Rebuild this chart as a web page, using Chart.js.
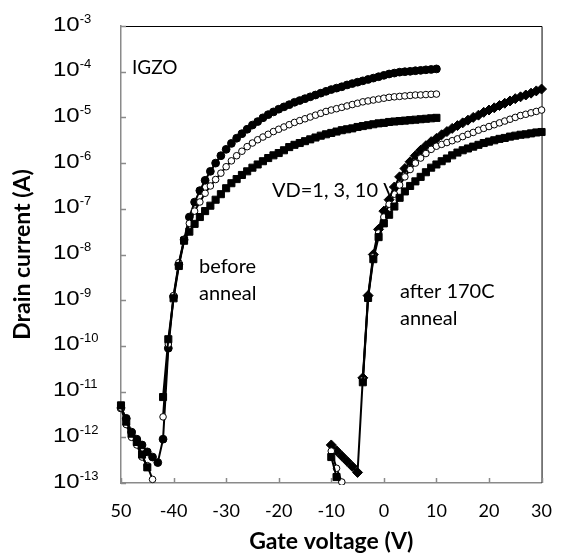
<!DOCTYPE html>
<html>
<head>
<meta charset="utf-8">
<script src="https://cdn.jsdelivr.net/npm/chart.js@4.4.1/dist/chart.umd.min.js"></script>
<style>
  body { margin: 0; background: #fff; }
  canvas { display: block; }
</style>
</head>
<body>
<canvas id="idChart" width="569" height="558"></canvas>
<script>
// gate voltage steps (V)
var gateBefore = [-50, -49, -48, -47, -46, -45, -44, -43, -42, -41, -40, -39, -38, -37, -36, -35, -34, -33, -32, -31,
  -30, -29, -28, -27, -26, -25, -24, -23, -22, -21, -20, -19, -18, -17, -16, -15, -14, -13, -12, -11,
  -10, -9, -8, -7, -6, -5, -4, -3, -2, -1, 0, 1, 2, 3, 4, 5, 6, 7, 8, 9, 10];
var gateAfter = [-10, -9, -8, -7, -6, -5, -4, -3, -2, -1, 0, 1, 2, 3, 4, 5, 6, 7, 8, 9,
  10, 11, 12, 13, 14, 15, 16, 17, 18, 19, 20, 21, 22, 23, 24, 25, 26, 27, 28, 29, 30];

// drain current (A), before anneal
var beforeVd10 = [4.4e-12, 2.6e-12, 1.3e-12, 9.1e-13, 6.8e-13, 4.8e-13, 3.7e-13, 2.8e-13, 9.1e-13, 8.9e-11,
  1.2e-9, 6.0e-9, 2.1e-8, 6.6e-8, 1.4e-7, 2.5e-7, 4.2e-7, 6.6e-7, 1.0e-6, 1.45e-6,
  2.0e-6, 2.7e-6, 3.5e-6, 4.4e-6, 5.5e-6, 6.8e-6, 8.1e-6, 9.8e-6, 1.15e-5, 1.32e-5,
  1.51e-5, 1.7e-5, 1.9e-5, 2.14e-5, 2.34e-5, 2.57e-5, 2.82e-5, 3.09e-5, 3.39e-5, 3.72e-5,
  4.07e-5, 4.37e-5, 4.68e-5, 5.13e-5, 5.5e-5, 5.89e-5, 6.31e-5, 6.76e-5, 7.24e-5, 7.76e-5,
  8.32e-5, 8.91e-5, 9.33e-5, 9.77e-5, 1.0e-4, 1.02e-4, 1.05e-4, 1.07e-4, 1.1e-4, 1.12e-4, 1.15e-4];
var beforeVd3 = [4.4e-12, 1.9e-12, 1.0e-12, 6.8e-13, 3.7e-13, 2.4e-13, 1.2e-13, null, 2.8e-12, 1.1e-10,
  1.26e-9, 6.6e-9, 2.1e-8, 4.8e-8, 8.9e-8, 1.41e-7, 2.19e-7, 3.16e-7, 4.37e-7, 6.03e-7,
  8.32e-7, 1.12e-6, 1.45e-6, 1.82e-6, 2.29e-6, 2.75e-6, 3.24e-6, 3.72e-6, 4.27e-6, 4.9e-6,
  5.5e-6, 6.17e-6, 6.92e-6, 7.76e-6, 8.51e-6, 9.33e-6, 1.02e-5, 1.12e-5, 1.23e-5, 1.35e-5,
  1.45e-5, 1.55e-5, 1.66e-5, 1.78e-5, 1.91e-5, 2.04e-5, 2.19e-5, 2.29e-5, 2.4e-5, 2.51e-5,
  2.63e-5, 2.75e-5, 2.82e-5, 2.88e-5, 2.95e-5, 3.02e-5, 3.09e-5, 3.1e-5, 3.16e-5, 3.2e-5, 3.24e-5];
var beforeVd1 = [5.0e-12, 2.2e-12, 1.2e-12, 7.9e-13, 4.2e-13, 2.2e-13, null, null, 7.6e-12, 1.4e-10,
  1.1e-9, 5.6e-9, 2.0e-8, 3.16e-8, 4.68e-8, 6.61e-8, 8.91e-8, 1.17e-7, 1.58e-7, 2.09e-7,
  2.82e-7, 3.63e-7, 4.47e-7, 5.5e-7, 6.61e-7, 7.94e-7, 9.33e-7, 1.1e-6, 1.29e-6, 1.48e-6,
  1.66e-6, 1.91e-6, 2.24e-6, 2.51e-6, 2.75e-6, 3.02e-6, 3.31e-6, 3.63e-6, 3.98e-6, 4.27e-6,
  4.57e-6, 4.9e-6, 5.25e-6, 5.5e-6, 5.75e-6, 6.17e-6, 6.46e-6, 6.76e-6, 7.08e-6, 7.41e-6,
  7.59e-6, 7.94e-6, 8.13e-6, 8.32e-6, 8.51e-6, 8.71e-6, 8.91e-6, 9.12e-6, 9.33e-6, 9.55e-6, 9.77e-6];

// drain current (A), after 170C anneal
var afterVd10 = [6.8e-13, 5.1e-13, 3.9e-13, 3.0e-13, 2.3e-13, 1.7e-13, 2.0e-11, 1.26e-9, 1.0e-8, 3.55e-8,
  8.9e-8, 1.58e-7, 3.0e-7, 5.0e-7, 7.6e-7, 1.07e-6, 1.45e-6, 1.91e-6, 2.4e-6, 2.95e-6,
  3.47e-6, 4.17e-6, 4.9e-6, 5.75e-6, 6.61e-6, 7.59e-6, 8.71e-6, 1.0e-5, 1.12e-5, 1.29e-5,
  1.45e-5, 1.62e-5, 1.82e-5, 2.04e-5, 2.29e-5, 2.57e-5, 2.82e-5, 3.09e-5, 3.39e-5, 3.8e-5, 4.17e-5];
var afterVd3 = [5.0e-13, 2.1e-13, 1.05e-13, null, null, null, 1.8e-11, 1.17e-9, 8.9e-9, 2.95e-8,
  6.6e-8, 1.26e-7, 2.09e-7, 3.31e-7, 5.0e-7, 7.24e-7, 1.0e-6, 1.29e-6, 1.62e-6, 2.0e-6,
  2.34e-6, 2.57e-6, 2.82e-6, 3.09e-6, 3.39e-6, 3.8e-6, 4.27e-6, 4.68e-6, 5.25e-6, 5.75e-6,
  6.31e-6, 6.92e-6, 7.59e-6, 8.32e-6, 9.12e-6, 1.0e-5, 1.1e-5, 1.17e-5, 1.26e-5, 1.35e-5, 1.45e-5];
var afterVd1 = [3.7e-13, 1.35e-13, null, null, null, null, 1.6e-11, 1.12e-9, 7.9e-9, 2.4e-8,
  4.8e-8, 7.4e-8, 1.12e-7, 1.74e-7, 2.4e-7, 3.16e-7, 3.98e-7, 5.0e-7, 6.31e-7, 7.94e-7,
  9.33e-7, 1.1e-6, 1.26e-6, 1.48e-6, 1.7e-6, 1.91e-6, 2.09e-6, 2.29e-6, 2.51e-6, 2.75e-6,
  2.95e-6, 3.16e-6, 3.39e-6, 3.55e-6, 3.8e-6, 3.98e-6, 4.17e-6, 4.27e-6, 4.47e-6, 4.68e-6, 4.79e-6];

// axis ticks
var xTickValues = [-50, -40, -30, -20, -10, 0, 10, 20, 30];
var xTickLabels = ['50', '-40', '-30', '-20', '-10', '0', '10', '20', '30'];
var yTickValues = [1e-3, 1e-4, 1e-5, 1e-6, 1e-7, 1e-8, 1e-9, 1e-10, 1e-11, 1e-12, 1e-13];
var yTickExponents = ['-3', '-4', '-5', '-6', '-7', '-8', '-9', '-10', '-11', '-12', '-13'];

var axisGrey = '#8a8a8a';

// pair gate voltages with currents
function toPoints(gate, current) {
    return gate.map(function (v, i) {
        return { x: v, y: current[i] };
    });
}

// one black line series with its own marker
function makeSeries(label, gate, current, style, radius, fill) {
    return {
        label: label,
        data: toPoints(gate, current),
        showLine: true,
        borderColor: '#000',
        borderWidth: 2,
        pointStyle: style,
        pointRadius: radius,
        pointBackgroundColor: fill,
        pointBorderColor: '#000',
        pointBorderWidth: 1,
        clip: { left: 6, top: 6, right: 6, bottom: 2 }
    };
}

// frame, inside tick marks, y tick labels and the notes on the plot
var decorations = {
    id: 'decorations',
    beforeDatasetsDraw: function (chart) {
        var ctx = chart.ctx;
        var a = chart.chartArea;
        var xs = chart.scales.x;
        var ys = chart.scales.y;
        ctx.save();
        ctx.strokeStyle = '#000';
        ctx.lineWidth = 1;
        ctx.beginPath();
        ctx.moveTo(a.left, a.top + 0.5);
        ctx.lineTo(a.right + 0.5, a.top + 0.5);
        ctx.lineTo(a.right + 0.5, a.bottom);
        ctx.stroke();

        ctx.strokeStyle = axisGrey;
        ctx.lineWidth = 1.5;
        ctx.beginPath();
        yTickValues.forEach(function (v) {
            var py = Math.round(ys.getPixelForValue(v)) + 0.5;
            ctx.moveTo(a.left, py);
            ctx.lineTo(a.left + 5, py);
        });
        xTickValues.forEach(function (v) {
            var px = Math.round(xs.getPixelForValue(v)) + 0.5;
            ctx.moveTo(px, a.bottom);
            ctx.lineTo(px, a.bottom - 5);
        });
        ctx.stroke();
        ctx.restore();
    },
    afterDraw: function (chart) {
        var ctx = chart.ctx;
        var ys = chart.scales.y;
        ctx.save();
        ctx.fillStyle = '#000';
        ctx.textAlign = 'left';
        ctx.textBaseline = 'middle';
        yTickValues.forEach(function (v, i) {
            var py = ys.getPixelForValue(v);
            ctx.save();
            ctx.translate(53, py - 1);
            ctx.scale(1.2, 1);
            ctx.font = '20px "Liberation Sans"';
            ctx.fillText('10', 0, 0);
            var w = ctx.measureText('10').width * 1.2;
            ctx.restore();
            ctx.font = '13px "Liberation Sans"';
            ctx.fillText(yTickExponents[i], 53 + w, py - 7);
        });

        ctx.textBaseline = 'alphabetic';
        ctx.font = '19px Lato';
        ctx.fillText('IGZO', 132, 74);
        ctx.font = '20px Lato';
        ctx.fillText('VD=1, 3, 10 V', 272, 197);
        ctx.fillText('before', 199, 273);
        ctx.fillText('anneal', 199, 300);
        ctx.fillText('after 170C', 400, 298);
        ctx.fillText('anneal', 400, 325);
        ctx.restore();
    }
};

var ctx = document.getElementById('idChart').getContext('2d');
var idChart = new Chart(ctx, {
    type: 'scatter',
    data: {
        datasets: [
            makeSeries('before VD=1', gateBefore, beforeVd1, 'rect', 5, '#000'),
            makeSeries('before VD=3', gateBefore, beforeVd3, 'circle', 3.3, '#fff'),
            makeSeries('before VD=10', gateBefore, beforeVd10, 'circle', 3.9, '#000'),
            makeSeries('after VD=1', gateAfter, afterVd1, 'rect', 5, '#000'),
            makeSeries('after VD=3', gateAfter, afterVd3, 'circle', 3.3, '#fff'),
            makeSeries('after VD=10', gateAfter, afterVd10, 'rectRot', 5, '#000')
        ]
    },
    options: {
        responsive: false,
        animation: false,
        layout: { padding: { top: 26, right: 13, bottom: 0, left: 0 } },
        plugins: {
            legend: { display: false },
            tooltip: { enabled: false }
        },
        scales: {
            x: {
                type: 'linear',
                min: -50,
                max: 30,
                afterBuildTicks: function (scale) {
                    scale.ticks = xTickValues.map(function (v) { return { value: v }; });
                },
                afterFit: function (scale) { scale.height = 75; },
                ticks: {
                    color: '#000',
                    padding: 17,
                    maxRotation: 0,
                    font: { family: 'Lato', size: 18 },
                    callback: function (value, index) { return xTickLabels[index]; }
                },
                grid: { drawOnChartArea: false, drawTicks: false },
                border: { color: axisGrey, width: 1.5 },
                title: {
                    display: true,
                    text: 'Gate voltage (V)',
                    color: '#000',
                    font: { family: 'Lato', size: 23, weight: 'bold' },
                    padding: { top: 0, bottom: 3 }
                }
            },
            y: {
                type: 'logarithmic',
                min: 1e-13,
                max: 1e-3,
                afterBuildTicks: function (scale) {
                    scale.ticks = yTickValues.map(function (v) { return { value: v }; });
                },
                afterFit: function (scale) { scale.width = 121; },
                ticks: { display: false },
                grid: { drawOnChartArea: false, drawTicks: false },
                border: { color: axisGrey, width: 1.5 },
                title: {
                    display: true,
                    text: 'Drain current (A)',
                    color: '#000',
                    font: { family: 'Lato', size: 23, weight: 'bold' },
                    padding: { top: 9, bottom: 0 }
                }
            }
        }
    },
    plugins: [decorations]
});
</script>
</body>
</html>
